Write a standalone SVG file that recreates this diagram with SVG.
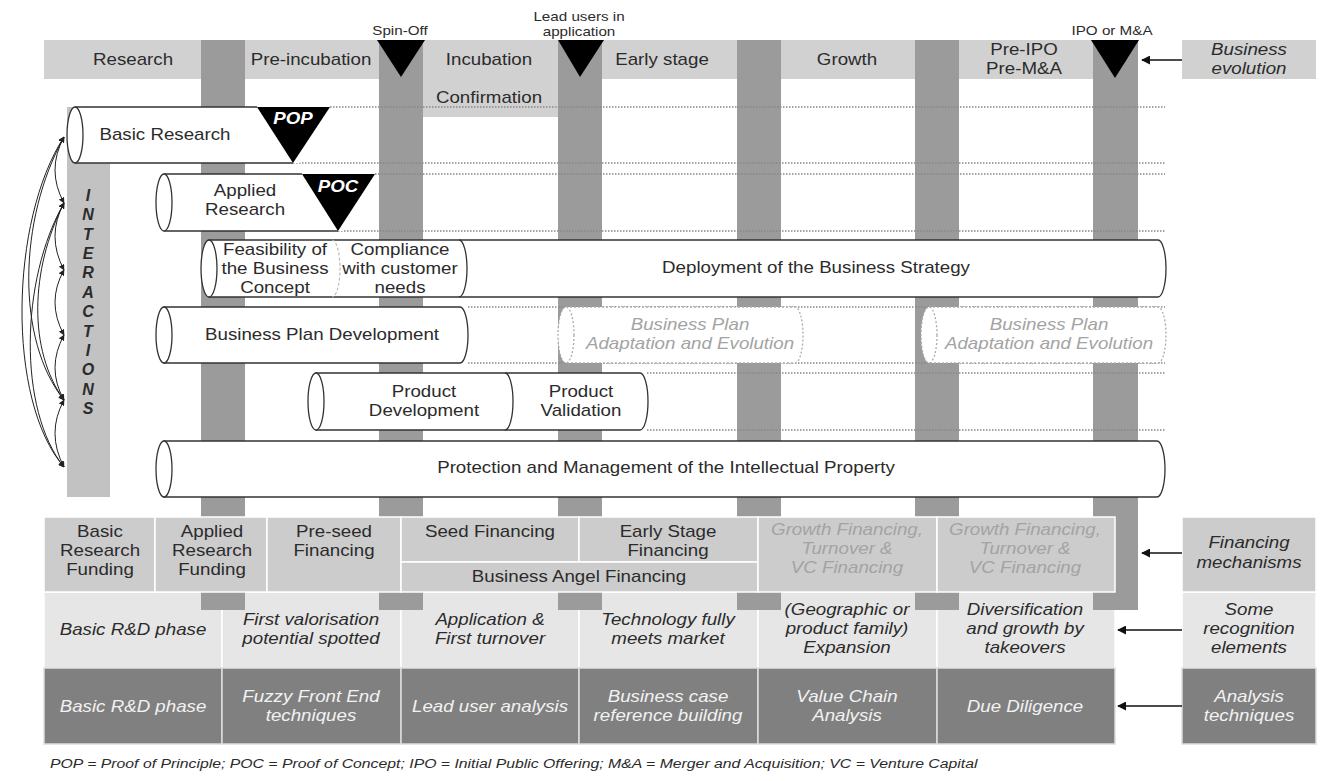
<svg xmlns="http://www.w3.org/2000/svg" width="1322" height="781" viewBox="0 0 1322 781">
<style>
.t{font-family:"Liberation Sans",Arial,sans-serif;font-size:16px;fill:#2b2b2b;text-anchor:middle}
.i{font-style:italic}
.b{font-weight:bold}
.g{fill:#a3a3a3}
.w{fill:#f2f2f2}
.wh{fill:#fff}
.s{font-size:13px}
.fn{font-size:13.5px;font-style:italic;text-anchor:start}
.cyl{fill:#fff;stroke:#333;stroke-width:1.3}
.dcyl{fill:#fff;stroke:#aaa;stroke-width:1.3;stroke-dasharray:2 2}
.dot{fill:none;stroke:#888;stroke-width:1.4;stroke-dasharray:1.5 1.5}
.col{fill:#9b9b9b}
.fin{fill:#cccccc;stroke:#fff;stroke-width:1.5}
.rec{fill:#e6e6e6;stroke:#fff;stroke-width:1.5}
.ana{fill:#808080;stroke:#ddd;stroke-width:1.5}
.arr{fill:none;stroke:#111;stroke-width:1.5}
.ia{fill:none;stroke:#222;stroke-width:1}
</style>
<defs>
<marker id="ah" viewBox="0 0 10 10" refX="9" refY="5" markerWidth="9" markerHeight="9" markerUnits="userSpaceOnUse" orient="auto"><path d="M0,0 L10,5 L0,10 Z" fill="#111"/></marker>
<marker id="sa" viewBox="0 0 10 10" refX="9" refY="5" markerWidth="6" markerHeight="6" markerUnits="userSpaceOnUse" orient="auto-start-reverse"><path d="M0,0 L10,5 L0,10 Z" fill="#222"/></marker>
</defs>

<g id="header">
<rect x="44" y="40" width="1050" height="39" fill="#d1d1d1"/>
<rect x="423" y="79" width="135" height="38" fill="#d1d1d1"/>
</g>
<g id="business-evolution"><rect x="1182" y="40" width="134" height="39" fill="#d1d1d1"/>
<text class="t i" transform="translate(1249,55) scale(1.17,1)"><tspan x="0" y="0">Business</tspan><tspan x="0" y="19">evolution</tspan></text></g>

<g id="recognition-row">
<rect class="rec" x="44" y="592" width="178" height="76"/>
<rect class="rec" x="222" y="592" width="179" height="76"/>
<rect class="rec" x="401" y="592" width="178" height="76"/>
<rect class="rec" x="579" y="592" width="179" height="76"/>
<rect class="rec" x="758" y="592" width="179" height="76"/>
<rect class="rec" x="937" y="592" width="178" height="76"/>
<rect class="rec" x="1182" y="592" width="134" height="76"/>
</g>
<g id="analysis-row">
<rect class="ana" x="44" y="668" width="178" height="76"/>
<rect class="ana" x="222" y="668" width="179" height="76"/>
<rect class="ana" x="401" y="668" width="178" height="76"/>
<rect class="ana" x="579" y="668" width="179" height="76"/>
<rect class="ana" x="758" y="668" width="179" height="76"/>
<rect class="ana" x="937" y="668" width="178" height="76"/>
<rect class="ana" x="1182" y="668" width="134" height="76"/>
</g>

<g id="columns">
<rect class="col" x="201" y="40" width="44" height="570"/>
<rect class="col" x="379" y="40" width="44" height="570"/>
<rect class="col" x="558" y="40" width="44" height="570"/>
<rect class="col" x="737" y="40" width="44" height="570"/>
<rect class="col" x="915" y="40" width="44" height="570"/>
<rect class="col" x="1093" y="40" width="45" height="570"/>
</g>

<g id="financing-row">
<rect class="fin" x="44" y="517" width="111" height="75"/>
<rect class="fin" x="155" y="517" width="112" height="75"/>
<rect class="fin" x="267" y="517" width="134" height="75"/>
<rect class="fin" x="401" y="517" width="178" height="45"/>
<rect class="fin" x="579" y="517" width="179" height="45"/>
<rect class="fin" x="401" y="562" width="357" height="30"/>
<rect class="fin" x="758" y="517" width="179" height="75"/>
<rect class="fin" x="937" y="517" width="178" height="75"/>
<rect class="fin" x="1182" y="517" width="134" height="75"/>
</g>

<g id="header-labels">
<text class="t" transform="translate(133,65) scale(1.17,1)">Research</text>
<text class="t" transform="translate(311,65) scale(1.17,1)">Pre-incubation</text>
<text class="t" transform="translate(489,65) scale(1.17,1)">Incubation</text>
<text class="t" transform="translate(489,103) scale(1.17,1)">Confirmation</text>
<text class="t" transform="translate(662,65) scale(1.17,1)">Early stage</text>
<text class="t" transform="translate(847,65) scale(1.17,1)">Growth</text>
<text class="t" transform="translate(1024,55) scale(1.17,1)"><tspan x="0" y="0">Pre-IPO</tspan><tspan x="0" y="19">Pre-M&amp;A</tspan></text>
</g>

<g id="milestones">
<path d="M377,40 L425,40 L401,77 Z" fill="#000"/>
<path d="M558,40 L604,40 L580,77 Z" fill="#000"/>
<path d="M1091,40 L1139,40 L1115,78 Z" fill="#000"/>
<text class="t s" transform="translate(400,35) scale(1.17,1)">Spin-Off</text>
<text class="t s" transform="translate(579,21) scale(1.17,1)"><tspan x="0" y="0">Lead users in</tspan><tspan x="0" y="15">application</tspan></text>
<text class="t s" transform="translate(1112,35) scale(1.17,1)">IPO or M&amp;A</text>
</g>

<g id="interactions">
<rect x="67" y="107" width="43" height="390" fill="#c2c2c2"/>
<text class="t b i" style="font-size:16px" transform="translate(88,0)">
<tspan x="0" y="201">I</tspan><tspan x="0" y="220.4">N</tspan><tspan x="0" y="239.7">T</tspan><tspan x="0" y="259.1">E</tspan><tspan x="0" y="278.4">R</tspan><tspan x="0" y="297.8">A</tspan><tspan x="0" y="317.2">C</tspan><tspan x="0" y="336.5">T</tspan><tspan x="0" y="355.9">I</tspan><tspan x="0" y="375.2">O</tspan><tspan x="0" y="394.6">N</tspan><tspan x="0" y="414">S</tspan>
</text>
</g>

<g id="guides">
<path class="dot" d="M330,107 H1165"/>
<path class="dot" d="M293,163 H1165"/>
<path class="dot" d="M375,174 H1165"/>
<path class="dot" d="M338,231 H1165"/>
<path class="dot" d="M468,307 H1165"/>
<path class="dot" d="M468,363 H1165"/>
<path class="dot" d="M647,373 H1165"/>
<path class="dot" d="M647,430 H1165"/>
</g>

<g id="basic-research">
<rect x="75" y="107" width="225" height="56" fill="#fff"/>
<path d="M75,107 H257 M75,163 H293" fill="none" stroke="#333" stroke-width="1.3"/>
<ellipse class="cyl" cx="75" cy="135" rx="8" ry="28"/>
<path d="M257,107 L330,107 L293,163 Z" fill="#000"/>
<text class="t b i wh" transform="translate(293,124) scale(1.17,1)">POP</text>
<text class="t" transform="translate(165,140) scale(1.17,1)">Basic Research</text>
</g>

<g id="applied-research">
<rect x="164" y="174" width="180" height="57" fill="#fff"/>
<path d="M164,174 H302 M164,231 H338" fill="none" stroke="#333" stroke-width="1.3"/>
<ellipse class="cyl" cx="164" cy="202.5" rx="8" ry="28.5"/>
<path d="M302,174 L375,174 L338,231 Z" fill="#000"/>
<text class="t b i wh" transform="translate(338,192) scale(1.17,1)">POC</text>
<text class="t" transform="translate(245,196) scale(1.17,1)"><tspan x="0" y="0">Applied</tspan><tspan x="0" y="19">Research</tspan></text>
</g>

<g id="business-strategy">
<path class="cyl" d="M209,240 H1158 A8,28.5 0 0 1 1158,297 H209 Z"/>
<ellipse class="cyl" cx="209" cy="268.5" rx="8" ry="28.5"/>
<path d="M332,240 A8,28.5 0 0 1 332,297" fill="none" stroke="#bbb" stroke-width="1.2" stroke-dasharray="3 2"/>
<path d="M459,240 A8,28.5 0 0 1 459,297" fill="none" stroke="#333" stroke-width="1.3"/>
<text class="t" transform="translate(275,255) scale(1.17,1)"><tspan x="0" y="0">Feasibility of</tspan><tspan x="0" y="19">the Business</tspan><tspan x="0" y="38">Concept</tspan></text>
<text class="t" transform="translate(400,255) scale(1.17,1)"><tspan x="0" y="0">Compliance</tspan><tspan x="0" y="19">with customer</tspan><tspan x="0" y="38">needs</tspan></text>
<text class="t" transform="translate(816,273) scale(1.17,1)">Deployment of the Business Strategy</text>
</g>

<g id="business-plan">
<path class="cyl" d="M164,307 H460 A8,28 0 0 1 460,363 H164 Z"/>
<ellipse class="cyl" cx="164" cy="335" rx="8" ry="28"/>
<text class="t" transform="translate(322,340) scale(1.17,1)">Business Plan Development</text>
</g>

<g id="bp-adaptation-1">
<path class="dcyl" d="M566,307 H795 A8,28 0 0 1 795,363 H566 Z"/>
<ellipse class="dcyl" cx="566" cy="335" rx="8" ry="28"/>
<text class="t i g" transform="translate(690,330) scale(1.17,1)"><tspan x="0" y="0">Business Plan</tspan><tspan x="0" y="19">Adaptation and Evolution</tspan></text>
</g>
<g id="bp-adaptation-2">
<path class="dcyl" d="M929,307 H1158 A8,28 0 0 1 1158,363 H929 Z"/>
<ellipse class="dcyl" cx="929" cy="335" rx="8" ry="28"/>
<text class="t i g" transform="translate(1049,330) scale(1.17,1)"><tspan x="0" y="0">Business Plan</tspan><tspan x="0" y="19">Adaptation and Evolution</tspan></text>
</g>

<g id="product">
<path class="cyl" d="M316,373 H640 A8,28.5 0 0 1 640,430 H316 Z"/>
<ellipse class="cyl" cx="316" cy="401.5" rx="8" ry="28.5"/>
<path d="M505,373 A8,28.5 0 0 1 505,430" fill="none" stroke="#333" stroke-width="1.3"/>
<text class="t" transform="translate(424,397) scale(1.17,1)"><tspan x="0" y="0">Product</tspan><tspan x="0" y="19">Development</tspan></text>
<text class="t" transform="translate(581,397) scale(1.17,1)"><tspan x="0" y="0">Product</tspan><tspan x="0" y="19">Validation</tspan></text>
</g>

<g id="ip-protection">
<path class="cyl" d="M164,441 H1157 A8,28 0 0 1 1157,497 H164 Z"/>
<ellipse class="cyl" cx="164" cy="469" rx="8" ry="28"/>
<text class="t" transform="translate(666,473) scale(1.17,1)">Protection and Management of the Intellectual Property</text>
</g>

<g id="financing-labels">
<text class="t" transform="translate(100,537) scale(1.17,1)"><tspan x="0" y="0">Basic</tspan><tspan x="0" y="19">Research</tspan><tspan x="0" y="38">Funding</tspan></text>
<text class="t" transform="translate(212,537) scale(1.17,1)"><tspan x="0" y="0">Applied</tspan><tspan x="0" y="19">Research</tspan><tspan x="0" y="38">Funding</tspan></text>
<text class="t" transform="translate(334,537) scale(1.17,1)"><tspan x="0" y="0">Pre-seed</tspan><tspan x="0" y="19">Financing</tspan></text>
<text class="t" transform="translate(490,537) scale(1.17,1)">Seed Financing</text>
<text class="t" transform="translate(668,537) scale(1.17,1)"><tspan x="0" y="0">Early Stage</tspan><tspan x="0" y="19">Financing</tspan></text>
<text class="t" transform="translate(579,582) scale(1.17,1)">Business Angel Financing</text>
<text class="t i g" transform="translate(847,535) scale(1.17,1)"><tspan x="0" y="0">Growth Financing,</tspan><tspan x="0" y="19">Turnover &amp;</tspan><tspan x="0" y="38">VC Financing</tspan></text>
<text class="t i g" transform="translate(1025,535) scale(1.17,1)"><tspan x="0" y="0">Growth Financing,</tspan><tspan x="0" y="19">Turnover &amp;</tspan><tspan x="0" y="38">VC Financing</tspan></text>
</g>
<g id="financing-mechanisms">
<text class="t i" transform="translate(1249,548) scale(1.17,1)"><tspan x="0" y="0">Financing</tspan><tspan x="0" y="20">mechanisms</tspan></text>
</g>

<g id="recognition-labels">
<text class="t i" transform="translate(133,635) scale(1.17,1)">Basic R&amp;D phase</text>
<text class="t i" transform="translate(311,625) scale(1.17,1)"><tspan x="0" y="0">First valorisation</tspan><tspan x="0" y="19">potential spotted</tspan></text>
<text class="t i" transform="translate(490,625) scale(1.17,1)"><tspan x="0" y="0">Application &amp;</tspan><tspan x="0" y="19">First turnover</tspan></text>
<text class="t i" transform="translate(668,625) scale(1.17,1)"><tspan x="0" y="0">Technology fully</tspan><tspan x="0" y="19">meets market</tspan></text>
<text class="t i" transform="translate(847,615) scale(1.17,1)"><tspan x="0" y="0">(Geographic or</tspan><tspan x="0" y="19">product family)</tspan><tspan x="0" y="38">Expansion</tspan></text>
<text class="t i" transform="translate(1025,615) scale(1.17,1)"><tspan x="0" y="0">Diversification</tspan><tspan x="0" y="19">and growth by</tspan><tspan x="0" y="38">takeovers</tspan></text>
</g>
<g id="recognition-elements">
<text class="t i" transform="translate(1249,615) scale(1.17,1)"><tspan x="0" y="0">Some</tspan><tspan x="0" y="19">recognition</tspan><tspan x="0" y="38">elements</tspan></text>
</g>

<g id="analysis-labels">
<text class="t i w" transform="translate(133,712) scale(1.17,1)">Basic R&amp;D phase</text>
<text class="t i w" transform="translate(311,702) scale(1.17,1)"><tspan x="0" y="0">Fuzzy Front End</tspan><tspan x="0" y="19">techniques</tspan></text>
<text class="t i w" transform="translate(490,712) scale(1.17,1)">Lead user analysis</text>
<text class="t i w" transform="translate(668,702) scale(1.17,1)"><tspan x="0" y="0">Business case</tspan><tspan x="0" y="19">reference building</tspan></text>
<text class="t i w" transform="translate(847,702) scale(1.17,1)"><tspan x="0" y="0">Value Chain</tspan><tspan x="0" y="19">Analysis</tspan></text>
<text class="t i w" transform="translate(1025,712) scale(1.17,1)">Due Diligence</text>
</g>
<g id="analysis-techniques">
<text class="t i w" transform="translate(1249,702) scale(1.17,1)"><tspan x="0" y="0">Analysis</tspan><tspan x="0" y="19">techniques</tspan></text>
</g>

<g id="connectors">
<path class="arr" d="M1182,60 H1142" marker-end="url(#ah)"/>
<path class="arr" d="M1182,553 H1142" marker-end="url(#ah)"/>
<path class="arr" d="M1182,630 H1118" marker-end="url(#ah)"/>
<path class="arr" d="M1182,706 H1118" marker-end="url(#ah)"/>
<path class="ia" d="M64,137 Q46,170 64,203" marker-start="url(#sa)" marker-end="url(#sa)"/>
<path class="ia" d="M64,203 Q46,236 64,270" marker-start="url(#sa)" marker-end="url(#sa)"/>
<path class="ia" d="M64,270 Q46,302 64,335" marker-start="url(#sa)" marker-end="url(#sa)"/>
<path class="ia" d="M64,335 Q46,368 64,400" marker-start="url(#sa)" marker-end="url(#sa)"/>
<path class="ia" d="M64,400 Q46,433 64,467" marker-start="url(#sa)" marker-end="url(#sa)"/>
<path class="ia" d="M64,137 C10,220 6,400 64,467" marker-start="url(#sa)" marker-end="url(#sa)"/>
<path class="ia" d="M64,137 C18,220 16,340 64,400" marker-start="url(#sa)" marker-end="url(#sa)"/>
<path class="ia" d="M64,203 C20,280 18,410 64,467" marker-start="url(#sa)" marker-end="url(#sa)"/>
<path class="ia" d="M64,203 C30,270 28,350 64,400" marker-start="url(#sa)" marker-end="url(#sa)"/>
</g>

<g id="footnote">
<text class="t fn" transform="translate(50,768) scale(1.17,1)">POP = Proof of Principle; POC = Proof of Concept; IPO = Initial Public Offering; M&amp;A = Merger and Acquisition; VC = Venture Capital</text>
</g>
</svg>
